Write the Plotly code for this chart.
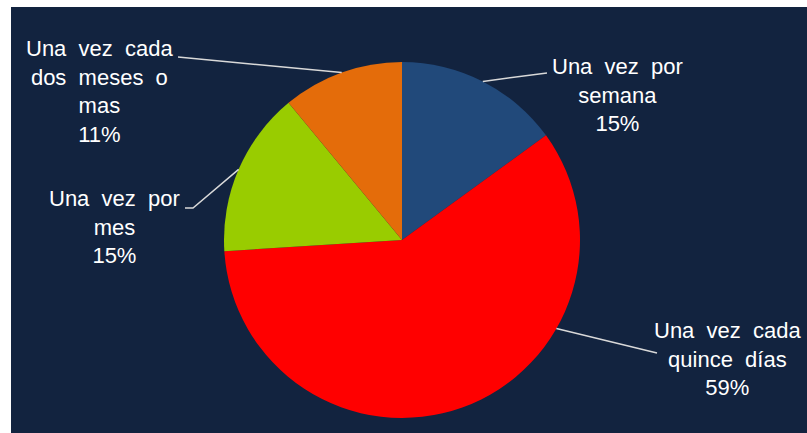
import math
import plotly.graph_objects as go

# ---- data ----
categories = ["Una vez por semana", "Una vez cada quince días", "Una vez por mes",
              "Una vez cada dos meses o mas"]
values = [15, 59, 15, 11]
label_texts = [
    "Una\u00a0\u00a0vez\u00a0\u00a0por<br>semana<br>15%",
    "Una\u00a0\u00a0vez\u00a0\u00a0cada<br>quince\u00a0\u00a0días<br>59%",
    "Una\u00a0\u00a0vez\u00a0\u00a0por<br>mes<br>15%",
    "Una\u00a0\u00a0vez\u00a0\u00a0cada<br>dos\u00a0\u00a0meses\u00a0\u00a0o<br>mas<br>11%",
]
colors = ["#21497A", "#FF0000", "#99CC00", "#E46C0A"]

# ---- layout / style ----
W, H = 807, 433
BG = "#12233F"
# pie placement (pixels)
PCX, PCY, PR = 402, 240, 178
# label placements (pixels, centre of block) and leader line end points
label_pos = [(617, 95), (728, 359), (114, 227), (100, 91)]
leader_ends = [[(547, 73)], [(657, 353)], [(193, 208), (185, 208)], [(178, 57)]]
attach_frac = [0.5, 0.31, 0.5, 0.5]   # where along each slice the leader line attaches

def px(x):
    return x / W

def py(y):
    return 1 - y / H

fig = go.Figure()
fig.add_trace(go.Pie(
    labels=categories, values=values, sort=False, direction="clockwise",
    rotation=0, marker=dict(colors=colors, line=dict(width=0)),
    textinfo="none", hoverinfo="label+percent", showlegend=False,
    domain=dict(x=[px(PCX - PR), px(PCX + PR)], y=[py(PCY + PR), py(PCY - PR)]),
))

shapes = [dict(type="rect", xref="paper", yref="paper", x0=px(11), x1=1.0,
               y0=0, y1=py(7), fillcolor=BG, line=dict(width=0), layer="below")]

total = sum(values)
cum = 0
annotations = []
for i, v in enumerate(values):
    a0 = cum / total * 360
    a1 = (cum + v) / total * 360
    cum += v
    ang = math.radians(a0 + (a1 - a0) * attach_frac[i])
    sx = PCX + PR * math.sin(ang)
    sy = PCY - PR * math.cos(ang)
    pts = [(sx, sy)] + leader_ends[i]
    path = "M " + " L ".join(f"{px(x):.5f},{py(y):.5f}" for x, y in pts)
    shapes.append(dict(type="path", xref="paper", yref="paper", path=path,
                       line=dict(color="#D9D9D9", width=1.5)))
    lx, ly = label_pos[i]
    annotations.append(dict(x=px(lx), y=py(ly), xref="paper", yref="paper",
                            text=label_texts[i], showarrow=False, align="center",
                            xanchor="center", yanchor="middle",
                            font=dict(family="Liberation Sans, Arial", size=22,
                                      color="#FFFFFF")))

fig.update_layout(
    width=W, height=H, margin=dict(l=0, r=0, t=0, b=0),
    paper_bgcolor="#FFFFFF", plot_bgcolor="#FFFFFF",
    shapes=shapes, annotations=annotations,
)
fig.write_html("out.html")
